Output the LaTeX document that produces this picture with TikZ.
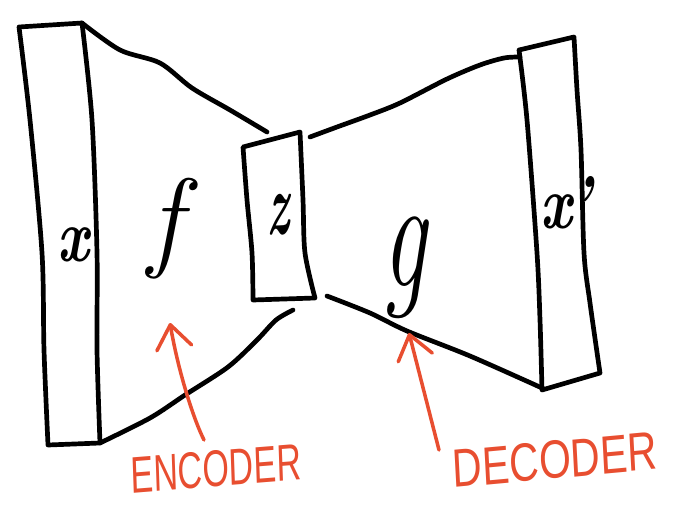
\documentclass[tikz,border=0pt]{standalone}
\usepackage{fontspec}
\newfontfamily\handfont{Liberation Sans}
\usetikzlibrary{arrows.meta}
\definecolor{inkred}{RGB}{232,78,48}
\begin{document}
\begin{tikzpicture}[x=0.03cm,y=-0.03cm,
  ink/.style={line width=4pt,line join=round,line cap=round,black},
  redarrow/.style={line width=3pt,inkred,line cap=round,-{Straight Barb[length=20pt,width=30pt,line cap=round,line join=round]}},
  lbl/.style={inner sep=0pt,font=\bfseries\itshape\fontsize{#1}{#1}\selectfont},
  thinlbl/.style={inner sep=0pt,font=\itshape\fontsize{#1}{#1}\selectfont},
  redlbl/.style={inner sep=0pt,text=inkred,font=\handfont\fontsize{#1}{#1}\selectfont}]
\useasboundingbox (0,0) rectangle (677,506);
% input box x
\draw[ink] plot[smooth] coordinates {(82,23) (92,120) (97,253) (97,350) (100,443)} -- (48,445)
  -- plot[smooth] coordinates {(48,445) (44,350) (42,253) (30,120) (19,27)} -- cycle;
% encoder edges
\draw[ink] plot[smooth] coordinates {(82,23) (120,50) (160,63) (192,88) (230,110) (267,132)};
\draw[ink] plot[smooth] coordinates {(100,443) (150,418) (185,395) (228,367) (257,340) (276,320) (293,310)};
% latent box z
\draw[ink] (243,147) -- (300,132) -- plot[smooth] coordinates {(300,132) (303,200) (305,253) (315,298)} -- (253,300)
  -- plot[smooth] coordinates {(253,300) (252,253) (247,200) (243,147)} -- cycle;
% decoder edges
\draw[ink] plot[smooth] coordinates {(310,137) (337,127) (370,115) (400,103) (447,79) (480,65) (504,58) (520,57)};
\draw[ink] plot[smooth] coordinates {(327,296) (370,313) (407,331) (470,356) (542,388)};
% output box x'
\draw[ink] (519,50) -- (574,37) -- plot[smooth] coordinates {(574,37) (577,90) (581,150) (584,253) (590,303) (600,373)} -- (542,390)
  -- plot[smooth] coordinates {(542,390) (540,320) (537,253) (527,120) (519,50)} -- cycle;
% labels
\node[lbl=64, xscale=0.75] (xin) at (73,245) {x};
\node[thinlbl=95] (f) at (165,229) {f};
\node[lbl=76, xscale=0.5] (z) at (278,215) {z};
\node[thinlbl=135, xscale=0.62] (g) at (405,268) {g};
\node[lbl=64, xscale=0.75] (xout) at (566,203) {x’};
% red annotations
\node[redlbl=44, xscale=0.66, rotate=3] (enc) at (216,469) {ENCODER};
\node[redlbl=46, xscale=0.76, rotate=4] (dec) at (555,460) {DECODER};
\coordinate (encTail) at (204,440);
\coordinate (encTip) at (170,323);
\draw[redarrow] (encTail) .. controls (193,418) and (178,370) .. (encTip);
\coordinate (decTail) at (439,450);
\coordinate (decTip) at (409,333);
\draw[redarrow] (decTail) -- (decTip);
\end{tikzpicture}
\end{document}
